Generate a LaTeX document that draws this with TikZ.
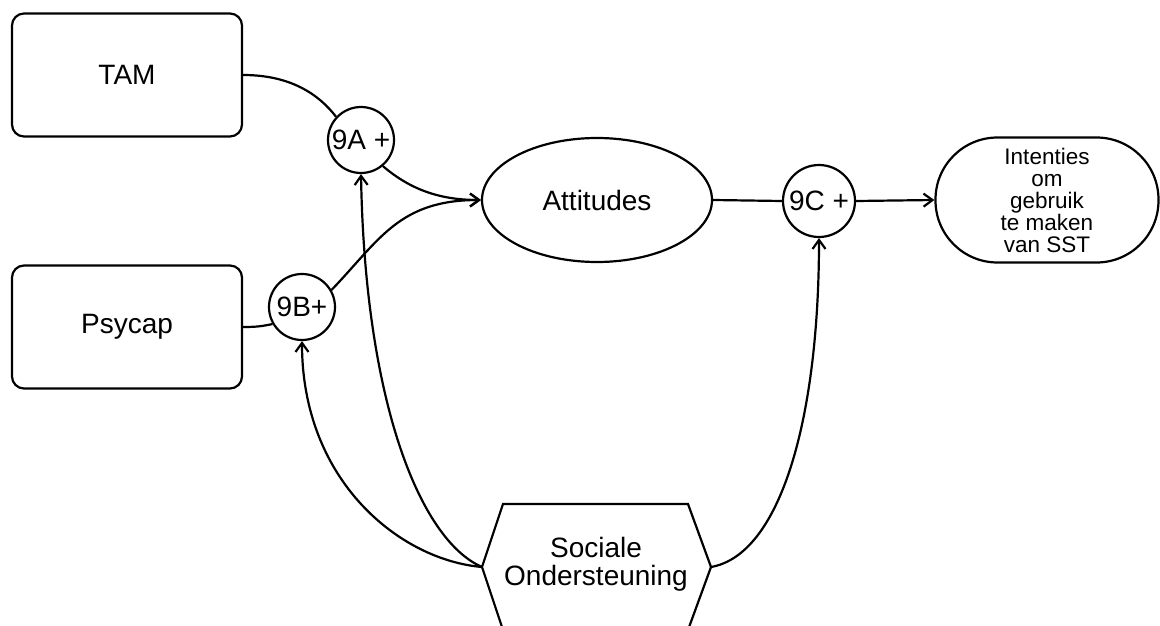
\documentclass[tikz,border=0pt]{standalone}
\usepackage{fontspec}
\setmainfont{Liberation Sans}
\usetikzlibrary{arrows.meta,shapes.geometric}

\tikzset{
  every picture/.style={x=1pt,y=-1pt,line width=2.2pt},
  bigtext/.style={font=\fontsize{28}{28}\selectfont},
  construct/.style={draw,rectangle,rounded corners=12pt,minimum width=230pt,minimum height=123pt,bigtext},
  moderator/.style={draw,circle,inner sep=0pt,minimum size=66pt,bigtext},
  link/.style={draw},
  arrowlink/.style={draw,-{Straight Barb[length=9pt,width=13pt]}},
}

\begin{document}
\begin{tikzpicture}
\useasboundingbox (0,0) rectangle (1160,626);
\clip (0,0) rectangle (1160,626);

% predictors
\node[construct] (tam) at (127,75) {TAM};
\node[construct] (psy) at (127,327) {Psycap};

% moderation points
\node[moderator] (nA) at (361,140) {9A +};
\node[moderator] (nB) at (302,307) {9B+};
\node[moderator,minimum size=72pt] (nC) at (819,201) {9C +};

% mediator and outcome
\node[draw,ellipse,inner sep=0pt,minimum width=230pt,minimum height=124pt,bigtext] (att) at (597,200) {Attitudes};
\node[draw,rectangle,rounded corners=62pt,minimum width=223pt,minimum height=125pt,align=center,
      font=\fontsize{22.5}{22}\selectfont] (int) at (1047,200) {Intenties\\om\\gebruik\\te maken\\van SST};

% moderator: hexagon cut off at the lower edge
\coordinate (socL) at (482,567);
\coordinate (socR) at (711,567);
\draw (503,504) -- (688,504) -- (socR) -- (688,630) -- (503,630) -- (socL) -- cycle;
\node[align=center,bigtext] (soc) at (596,564) {Sociale\\Ondersteuning};

% paths
\path[link] (tam.east) .. controls +(48,0) and +(-17,-22) .. (nA.137);
\path[arrowlink] (nA.-50) .. controls +(28,24) and +(-40,0) .. (att.west);
\path[link] (psy.east) .. controls +(15,0) and +(-10,2) .. (nB.-150);
\path[arrowlink] (nB.30) .. controls +(48,-50) and +(-82,0) .. (att.west);
\path[link] (att.east) -- (nC.west);
\path[arrowlink] (nC.east) -- (int.west);

\path[arrowlink] (socL) .. controls +(-82,-7) and +(0,140) .. (nB.south);
\path[arrowlink] (socL) .. controls +(-62,-27) and +(4,228) .. (nA.south);
\path[arrowlink] (socR) .. controls +(69,-12) and +(0,182) .. (nC.south);
\end{tikzpicture}
\end{document}
